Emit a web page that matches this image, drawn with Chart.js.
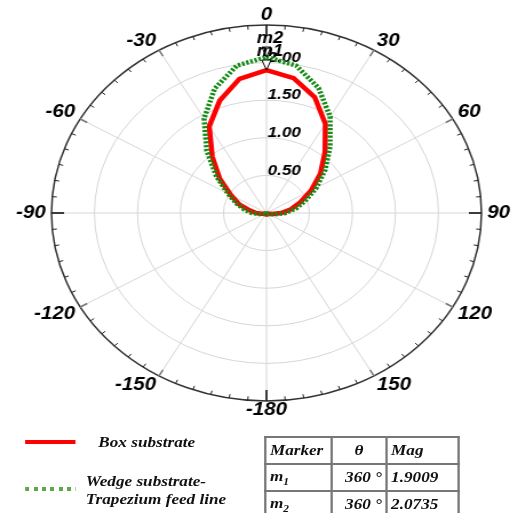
<!DOCTYPE html>
<html>
<head>
<meta charset="utf-8">
<script src="https://cdn.jsdelivr.net/npm/chart.js@4.4.1/dist/chart.umd.min.js"></script>
<style>
  html, body { margin: 0; padding: 0; background: #fff; width: 511px; height: 513px; overflow: hidden; }
  /* the whole figure is laid out on a 447px-wide stage, stretched to the 511px window */
  #stage { position: absolute; left: 0; top: 0; width: 447px; height: 513px; transform: scaleX(1.1436); transform-origin: 0 0; }
  #polar { position: absolute; left: 0; top: 0; }
  .legtxt { position: absolute; font: italic bold 15px "Liberation Serif", "Times New Roman", serif; color: #111; white-space: nowrap; line-height: 18px; }
  .legline { position: absolute; height: 4px; }
  #markers { position: absolute; left: 231px; top: 436px; border-collapse: collapse; font: italic bold 15px "Liberation Serif", "Times New Roman", serif; color: #111; }
  #markers td, #markers th { border: 2px solid #777; height: 25px; padding: 0 3px; font-weight: bold; font-style: italic; }
  #markers sub { font-size: 10px; }
</style>
</head>
<body>
<div id="stage">
  <canvas id="polar" width="466" height="430" style="width:466px;height:430px"></canvas>
  <div id="legend"></div>
  <table id="markers"></table>
</div>
<script>
// Angles of the pattern samples, degrees clockwise from the top (0 .. 350)
const angleDeg = [0,10,20,30,40,50,60,70,80,90,100,110,120,130,140,150,160,170,
                  180,190,200,210,220,230,240,250,260,270,280,290,300,310,320,330,340,350];

// Labels shown on the angular axis every 30 degrees
const angleTickAt   = [0, 30, 60, 90, 120, 150, 180, 210, 240, 270, 300, 330];
const angleTickText = ['0','30','60','90','120','150','-180','-150','-120','-90','-60','-30'];

// Radial scale
const radialMax = 2.5;
const radialStep = 0.5;
const radialTickValues = [0.5, 1.0, 1.5, 2.0];

// Series names
const seriesNames = ['Box substrate', 'Wedge substrate-\nTrapezium feed line'];

// Magnitude vs angle
const boxSubstrate = [1.9009,1.82,1.64,1.37,1.06,0.82,0.60,0.42,0.29,0.17,0.07,0.03,0.02,0.02,0.02,0.02,0.02,0.02,
                      0.02,0.02,0.02,0.02,0.02,0.02,0.02,0.03,0.06,0.12,0.20,0.34,0.48,0.71,0.98,1.33,1.59,1.81];
const wedgeSubstrate = [2.0735,1.99,1.77,1.48,1.15,0.89,0.67,0.48,0.35,0.22,0.10,0.04,0.02,0.02,0.02,0.02,0.02,0.02,
                        0.02,0.02,0.02,0.02,0.02,0.02,0.02,0.04,0.08,0.17,0.26,0.37,0.52,0.76,1.08,1.45,1.76,1.99];

// Markers
const markerNames  = ['m1', 'm2'];
const markerSeries = [0, 1];
const markerIndex  = [0, 0];
const markerTheta  = [360, 360];
const markerMag    = [1.9009, 2.0735];

const labelFont = '"Liberation Sans", Arial, sans-serif';

// Outer-ring ticks, radial value labels and the marker symbols
const polarDecor = {
  id: 'polarDecor',
  beforeDatasetsDraw(chart) {
    const s = chart.scales.r;
    const ctx = chart.ctx;
    const R = s.drawingArea;
    const perIndex = 360 / angleDeg.length;
    ctx.save();
    for (let a = 0; a < 360; a += 5) {
      const len = a % 90 === 0 ? 11 : (a % 30 === 0 ? 7 : 4);
      const p0 = s.getPointPosition(a / perIndex, R);
      const p1 = s.getPointPosition(a / perIndex, R - len);
      ctx.beginPath();
      ctx.moveTo(p0.x, p0.y);
      ctx.lineTo(p1.x, p1.y);
      ctx.strokeStyle = a % 90 === 0 ? '#000' : (a % 30 === 0 ? '#777' : '#222');
      ctx.lineWidth = a % 30 === 0 ? 1.5 : 1;
      ctx.stroke();
    }
    ctx.font = 'italic bold 15px ' + labelFont;
    ctx.fillStyle = '#000';
    ctx.textAlign = 'left';
    ctx.textBaseline = 'middle';
    radialTickValues.forEach(v => {
      const d = s.getDistanceFromCenterForValue(v);
      ctx.fillText(v.toFixed(2), s.xCenter + 1, s.yCenter - d - 5);
    });
    ctx.restore();
  },
  afterDatasetsDraw(chart) {
    const ctx = chart.ctx;
    ctx.save();
    for (let k = markerNames.length - 1; k >= 0; k--) {
      const pt = chart.getDatasetMeta(markerSeries[k]).data[markerIndex[k]];
      ctx.beginPath();
      ctx.moveTo(pt.x, pt.y);
      ctx.lineTo(pt.x - 4, pt.y - 10);
      ctx.lineTo(pt.x + 4, pt.y - 10);
      ctx.closePath();
      ctx.fillStyle = '#fff';
      ctx.fill();
      ctx.strokeStyle = '#000';
      ctx.lineWidth = 1;
      ctx.stroke();
      ctx.font = 'italic bold 16px ' + labelFont;
      ctx.fillStyle = '#000';
      ctx.textAlign = 'center';
      ctx.textBaseline = 'middle';
      ctx.fillText(markerNames[k], pt.x + 3, pt.y - 18);
    }
    ctx.restore();
  }
};

new Chart(document.getElementById('polar'), {
  type: 'radar',
  data: {
    labels: angleDeg,
    datasets: [
      {
        label: seriesNames[0],
        data: boxSubstrate,
        borderColor: '#ff0000',
        borderWidth: 4.5,
        fill: false,
        pointRadius: 0,
        order: 1
      },
      {
        label: seriesNames[1],
        data: wedgeSubstrate,
        borderColor: '#138a13',
        borderWidth: 4.5,
        borderDash: [2.2, 1.6],
        fill: false,
        pointRadius: 0,
        order: 0
      }
    ]
  },
  options: {
    responsive: false,
    animation: false,
    layout: { padding: { top: 11, bottom: 15, left: 0, right: 0 } },
    elements: { line: { tension: 0, borderCapStyle: 'butt', borderJoinStyle: 'miter' } },
    plugins: { legend: { display: false }, tooltip: { enabled: false } },
    scales: {
      r: {
        min: 0,
        max: radialMax,
        startAngle: 0,
        ticks: { display: false, stepSize: radialStep },
        grid: {
          circular: true,
          color: c => (c.tick && c.tick.value === radialMax) ? '#333' : '#d6d6d6',
          lineWidth: c => (c.tick && c.tick.value === radialMax) ? 1.5 : 1
        },
        angleLines: {
          display: true,
          color: c => angleTickAt.includes(angleDeg[c.index]) ? '#d6d6d6' : 'rgba(0,0,0,0)',
          lineWidth: 1
        },
        pointLabels: {
          display: true,
          padding: 5,
          color: '#000',
          font: { family: labelFont, size: 18, style: 'italic', weight: 'bold', lineHeight: 0.5 },
          callback: (lbl) => {
            const i = angleTickAt.indexOf(Number(lbl));
            return i >= 0 ? angleTickText[i] : '';
          }
        }
      }
    }
  },
  plugins: [polarDecor]
});

// Legend
const legend = document.getElementById('legend');
legend.innerHTML =
  '<div class="legline" style="left:22px;top:440px;width:44px;background:#ff0000"></div>' +
  '<div class="legtxt" style="left:86px;top:433px">' + seriesNames[0] + '</div>' +
  '<div class="legline" style="left:22px;top:487px;width:44px;background:repeating-linear-gradient(90deg,#5fa845 0 3.6px,transparent 3.6px 7.3px)"></div>' +
  '<div class="legtxt" style="left:75px;top:472px">' + seriesNames[1].replace('\n', '<br>') + '</div>';

// Marker table
const table = document.getElementById('markers');
let rows = '<tr><th style="width:50px;text-align:left">Marker</th><th style="width:40px;text-align:center">&theta;</th><th style="width:55px;text-align:left">Mag</th></tr>';
markerNames.forEach((n, k) => {
  rows += '<tr><td>' + n[0] + '<sub>' + n.slice(1) + '</sub></td>' +
          '<td style="text-align:right">' + markerTheta[k] + ' &deg;</td>' +
          '<td>' + markerMag[k].toFixed(4) + '</td></tr>';
});
table.innerHTML = rows;
</script>
</body>
</html>
